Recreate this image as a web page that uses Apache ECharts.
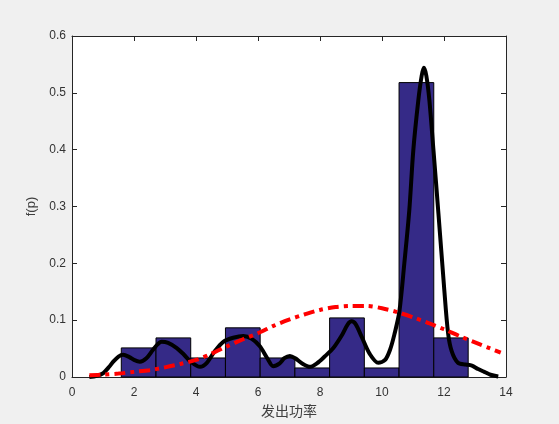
<!DOCTYPE html>
<html>
<head>
<meta charset="utf-8">
<script src="https://cdn.jsdelivr.net/npm/echarts@6/dist/echarts.min.js"></script>
<style>html,body{margin:0;padding:0;background:#f0f0f0;}#c{width:559px;height:424px;}</style>
</head>
<body>
<div id="c"></div>
<script>
const binEdges = [1.59, 2.71, 3.83, 4.95, 6.07, 7.19, 8.31, 9.43, 10.55, 11.67, 12.78];
const binHeights = [0.0512, 0.0688, 0.0335, 0.0865, 0.0335, 0.0159, 0.104, 0.0159, 0.518, 0.0688];

const kdeX = [0.56,0.8,1.01,1.2,1.33,1.5,1.65,1.85,2.0,2.19,2.4,2.6,2.75,2.89,3.1,3.38,3.6,3.85,4.13,4.35,4.6,4.88,5.2,5.53,5.8,6.06,6.3,6.49,6.7,6.85,7.03,7.2,7.45,7.68,7.9,8.15,8.43,8.7,8.9,9.02,9.15,9.35,9.6,9.88,10.1,10.26,10.4,10.56,10.72,10.88,11.01,11.17,11.28,11.35,11.43,11.53,11.66,11.82,12.0,12.13,12.25,12.45,12.7,12.9,13.1,13.3,13.5,13.75];
const kdeY = [0.000,0.002,0.007,0.018,0.027,0.036,0.039,0.035,0.030,0.027,0.033,0.047,0.057,0.062,0.060,0.051,0.040,0.026,0.018,0.025,0.045,0.062,0.069,0.072,0.067,0.054,0.033,0.019,0.024,0.033,0.037,0.033,0.023,0.018,0.024,0.036,0.051,0.073,0.093,0.098,0.093,0.070,0.041,0.025,0.030,0.048,0.075,0.115,0.200,0.293,0.399,0.486,0.530,0.544,0.530,0.486,0.399,0.288,0.160,0.078,0.045,0.025,0.022,0.020,0.014,0.009,0.004,0.001];

const normX = [0.56,1,1.5,2,2.5,3,3.5,4,4.5,5,5.5,6,6.5,7,7.5,8,8.5,9,9.5,10,10.5,11,11.5,12,12.5,13,13.5,13.83];
const normY = [0.003,0.004,0.006,0.009,0.012,0.017,0.023,0.030,0.041,0.054,0.066,0.077,0.090,0.101,0.110,0.118,0.123,0.125,0.125,0.121,0.114,0.105,0.095,0.084,0.072,0.061,0.050,0.043];

const xTicks = [0, 14, 2];
const yTicks = [0, 0.6, 0.1];

const histData = binHeights.map((h, i) => [binEdges[i], binEdges[i + 1], h]);
const kdeData = kdeX.map((x, i) => [x, kdeY[i]]);
const normData = normX.map((x, i) => [x, normY[i]]);

const axisColor = '#262626';
const labelColor = '#333333';
const font = 'Liberation Sans, Arial, Helvetica, sans-serif';
function axLine() { return { show: true, onZero: false, lineStyle: { color: axisColor, width: 1 } }; }
function axTick() { return { show: true, inside: true, length: 5, lineStyle: { color: axisColor, width: 1 } }; }

const chart = echarts.init(document.getElementById('c'), null, { renderer: 'canvas' });
chart.setOption({
  animation: false,
  backgroundColor: '#f0f0f0',
  grid: { left: 72, right: 53, top: 36, bottom: 47, show: true, backgroundColor: '#ffffff', borderWidth: 0 },
  xAxis: [
    {
      type: 'value', min: xTicks[0], max: xTicks[1], interval: xTicks[2], position: 'bottom',
      axisLine: axLine(), axisTick: axTick(), splitLine: { show: false },
      axisLabel: { color: labelColor, fontSize: 12, fontFamily: font, margin: 10 },
      name: '发出功率', nameLocation: 'middle', nameGap: 26,
      nameTextStyle: { color: '#404040', fontSize: 14, fontFamily: 'Noto Sans CJK SC, sans-serif' }
    },
    {
      type: 'value', min: xTicks[0], max: xTicks[1], interval: xTicks[2], position: 'top',
      axisLine: axLine(), axisTick: axTick(), splitLine: { show: false },
      axisLabel: { show: false }
    }
  ],
  yAxis: [
    {
      type: 'value', min: yTicks[0], max: yTicks[1], interval: yTicks[2], position: 'left',
      axisLine: axLine(), axisTick: axTick(), splitLine: { show: false },
      axisLabel: { color: labelColor, fontSize: 12, fontFamily: font, margin: 6, formatter: v => (v === 0 ? '0' : v.toFixed(1)) },
      name: 'f(p)', nameLocation: 'middle', nameGap: 25, nameRotate: 90,
      nameTextStyle: { color: '#404040', fontSize: 13, fontFamily: font }
    },
    {
      type: 'value', min: yTicks[0], max: yTicks[1], interval: yTicks[2], position: 'right',
      axisLine: axLine(), axisTick: axTick(), splitLine: { show: false },
      axisLabel: { show: false }
    }
  ],
  series: [
    {
      type: 'custom',
      xAxisIndex: 0, yAxisIndex: 0,
      data: histData,
      encode: { x: [0, 1], y: 2 },
      renderItem: function (params, api) {
        const p0 = api.coord([api.value(0), api.value(2)]);
        const p1 = api.coord([api.value(1), 0]);
        return {
          type: 'rect',
          shape: { x: p0[0], y: p0[1], width: p1[0] - p0[0], height: p1[1] - p0[1] },
          style: { fill: '#352a87', stroke: '#000000', lineWidth: 1 }
        };
      },
      z: 1
    },
    {
      type: 'line', data: kdeData, smooth: 0.3, showSymbol: false, symbol: 'none',
      lineStyle: { color: '#000000', width: 4 }, z: 3
    },
    {
      type: 'line', data: normData, smooth: 0.3, showSymbol: false, symbol: 'none',
      lineStyle: { color: '#ff0000', width: 4, type: [11, 5, 4, 5] }, z: 4
    }
  ]
});
</script>
</body>
</html>
